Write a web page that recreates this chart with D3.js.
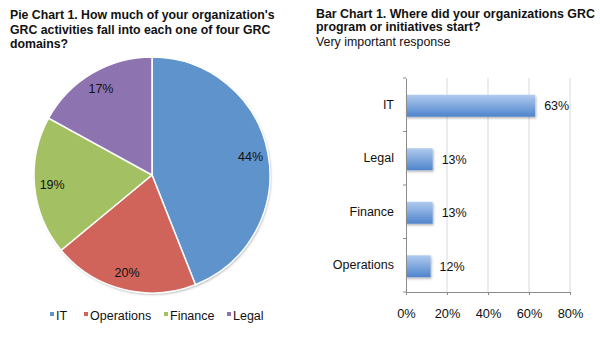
<!DOCTYPE html>
<html><head><meta charset="utf-8">
<script src="https://cdn.jsdelivr.net/npm/d3@7"></script>
<style>body{margin:0;background:#fff}svg{display:block;font-family:"Liberation Sans",Arial,sans-serif}</style>
</head><body>
<svg id="c" width="600" height="338"></svg>
<script>
const pieCategories = ["IT","Operations","Finance","Legal"];
const pieValues = [44,20,19,17];
const pieColors = ["#5f93cc","#d0645b","#a3c162","#8d73b0"];
const pieTitle = ["Pie Chart 1. How much of your organization's","GRC activities fall into each one of four GRC","domains?"];

const barCategories = ["IT","Legal","Finance","Operations"];
const barValues = [63,13,13,12];
const barTicks = [0,20,40,60,80];
const barTitle = ["Bar Chart 1. Where did your organizations GRC","program or initiatives start?"];
const barSubtitle = "Very important response";

const FF = "Liberation Sans, Arial, sans-serif";
const svg = d3.select("#c");
const defs = svg.append("defs");
const sh = defs.append("filter").attr("id","sh").attr("x","-10%").attr("y","-10%").attr("width","130%").attr("height","130%");
sh.append("feDropShadow").attr("dx",1).attr("dy",1.5).attr("stdDeviation",1.2).attr("flood-color","#000").attr("flood-opacity",0.3);
const gr = defs.append("linearGradient").attr("id","bg").attr("x1",0).attr("y1",0).attr("x2",0).attr("y2",1);
gr.append("stop").attr("offset","0%").attr("stop-color","#b0cbee");
gr.append("stop").attr("offset","100%").attr("stop-color","#4f84cc");

// Pie titles
svg.append("g").selectAll("text").data(pieTitle).join("text")
  .attr("x",10).attr("y",(d,i)=>19+i*14.5).attr("font-size",12.3).attr("font-weight","bold").attr("fill","#111").text(d=>d);

const cx=152, cy=175, R=118;
const pie = d3.pie().sort(null).value(d=>d.v);
const arcs = pie(pieCategories.map((c,i)=>({c,v:pieValues[i],col:pieColors[i]})));
const arc = d3.arc().innerRadius(0).outerRadius(R);
const pg = svg.append("g").attr("transform",`translate(${cx},${cy})`);
pg.append("circle").attr("r",R).attr("fill","#fff").attr("filter","url(#sh)");
pg.selectAll("path").data(arcs).join("path").attr("d",arc).attr("fill",d=>d.data.col)
  .attr("stroke","#fff").attr("stroke-width",1.5);
const lab = d3.arc().innerRadius(R*0.85).outerRadius(R*0.85);
pg.selectAll("text").data(arcs).join("text")
  .attr("transform",d=>{const [x,y]=lab.centroid(d);return `translate(${x},${y})`;})
  .attr("text-anchor","middle").attr("dy","0.35em").attr("font-size",12.5).attr("fill","#111")
  .text(d=>d.data.v+"%");

// legend
const legX=[50,84,164,227];
const lg = svg.append("g").selectAll("g").data(pieCategories).join("g").attr("transform",(d,i)=>`translate(${legX[i]},316)`);
lg.append("rect").attr("x",0).attr("y",-4).attr("width",4).attr("height",4).attr("fill",(d,i)=>pieColors[i]);
lg.append("text").attr("x",6).attr("dy","0.35em").attr("font-size",12.5).attr("fill","#111").text(d=>d);

// Bar chart
svg.append("g").selectAll("text").data(barTitle).join("text")
  .attr("x",316).attr("y",(d,i)=>18+i*13).attr("font-size",12.4).attr("font-weight","bold").attr("fill","#111").text(d=>d);
svg.append("text").attr("x",316).attr("y",46).attr("font-size",12.4).attr("fill","#111").text(barSubtitle);

const x = d3.scaleLinear().domain([0,80]).range([406,570]);
const y = d3.scaleBand().domain(barCategories).range([78,292]).paddingInner(0.59).paddingOuter(0.295);
const yb = d3.scaleBand().domain(barCategories).range([78,292]);

svg.append("g").selectAll("line").data(barTicks.slice(1)).join("line")
  .attr("x1",d=>x(d)).attr("x2",d=>x(d)).attr("y1",78).attr("y2",292).attr("stroke","#d9d9d9").attr("stroke-width",1);

const bars = svg.append("g");
bars.selectAll("rect").data(barCategories).join("rect")
  .attr("x",x(0)).attr("y",d=>y(d)+1).attr("width",(d,i)=>x(barValues[i])-x(0)).attr("height",y.bandwidth())
  .attr("fill","url(#bg)").attr("filter","url(#sh)");
bars.selectAll("text").data(barCategories).join("text")
  .attr("x",(d,i)=>x(barValues[i])+9).attr("y",d=>y(d)+1+y.bandwidth()/2).attr("dy","0.35em")
  .attr("font-size",12.5).attr("fill","#111").text((d,i)=>barValues[i]+"%");

const xa = svg.append("g").attr("transform","translate(0,292)")
  .call(d3.axisBottom(x).tickValues(barTicks).tickFormat(d=>d+"%").tickSize(3).tickPadding(14));
xa.select(".domain").attr("stroke","#8c8c8c");
xa.selectAll(".tick line").attr("stroke","#8c8c8c");
xa.selectAll("text").attr("font-size",12.8).attr("fill","#111").attr("font-family",FF);

const ya = svg.append("g").attr("transform","translate(406,0)")
  .call(d3.axisLeft(yb).tickSize(0).tickPadding(12));
ya.select(".domain").attr("stroke","#8c8c8c");
ya.selectAll("text").attr("font-size",12.5).attr("fill","#111").attr("font-family",FF);
svg.append("g").selectAll("line").data(barCategories.concat(["_end"])).join("line")
  .attr("x1",403).attr("x2",406).attr("y1",(d,i)=>78+i*yb.bandwidth()).attr("y2",(d,i)=>78+i*yb.bandwidth())
  .attr("stroke","#8c8c8c");
</script>
</body></html>
